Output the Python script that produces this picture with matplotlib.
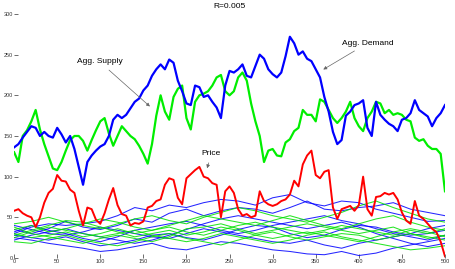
import numpy as np
import matplotlib
matplotlib.use("Agg")
import matplotlib.pyplot as plt

plt.rcParams["font.family"] = ["Liberation Sans", "DejaVu Sans"]

# time grid for the aggregate series (read every 5 steps)
t_main = np.arange(0, 501, 5)

agg_demand = [
    136, 140, 148, 155, 162, 160, 150, 155, 150, 148,
    160, 152, 142, 150, 134, 112, 90, 118, 126, 132,
    137, 140, 150, 170, 176, 172, 176, 184, 192, 196,
    206, 212, 224, 232, 238, 232, 244, 240, 218, 205,
    190, 188, 212, 210, 198, 200, 192, 185, 172, 212,
    230, 228, 232, 238, 224, 222, 236, 250, 245, 232,
    226, 222, 228, 248, 272, 264, 250, 254, 245, 242,
    232, 222, 198, 180, 155, 140, 145, 175, 180, 188,
    190, 194, 160, 150, 192, 176, 170, 165, 162, 156,
    170, 172, 178, 194, 182, 178, 174, 162, 172, 178,
    188,
]

agg_supply = [
    130, 118, 150, 157, 168, 182, 158, 140, 125, 110,
    108, 118, 132, 145, 150, 150, 144, 132, 145, 157,
    168, 172, 153, 138, 150, 162, 156, 150, 146, 138,
    128, 116, 140, 175, 200, 180, 170, 198, 208, 212,
    172, 158, 192, 200, 202, 205, 212, 222, 225, 205,
    200, 205, 222, 228, 218, 190, 168, 150, 118, 132,
    134, 126, 125, 142, 146, 156, 160, 182, 176, 176,
    168, 195, 192, 182, 172, 166, 172, 180, 192, 172,
    162, 156, 172, 180, 192, 190, 178, 182, 176, 178,
    176, 170, 168, 148, 144, 146, 138, 134, 134, 128,
    82,
]

price = [
    58, 60, 55, 52, 50, 38, 50, 68, 80, 85,
    102, 95, 94, 84, 80, 58, 40, 62, 60, 47,
    42, 55, 72, 86, 65, 54, 52, 40, 43, 42,
    45, 62, 64, 70, 72, 90, 98, 96, 74, 66,
    98, 103, 108, 112, 100, 98, 92, 90, 50, 82,
    88, 80, 60, 52, 54, 50, 52, 82, 70, 66,
    64, 66, 70, 72, 78, 95, 88, 115, 126, 132,
    102, 98, 106, 108, 62, 48, 60, 62, 64, 58,
    65, 100, 60, 52, 75, 76, 80, 78, 80, 72,
    56, 46, 42, 70, 52, 48, 42, 36, 32, 20,
    2,
]

# individual agents (read every 20 steps)
t_agent = np.arange(0, 501, 20)

blue_agents = [
    [30, 38, 42, 40, 42, 45, 52, 62, 58, 65, 62, 68, 72, 70, 65, 74, 78, 68, 64, 70, 68, 60, 55, 50, 45, 46],
    [35, 30, 36, 45, 38, 35, 40, 48, 44, 55, 60, 52, 58, 62, 60, 55, 62, 70, 60, 58, 62, 64, 68, 60, 56, 52],
    [28, 25, 22, 26, 20, 15, 18, 22, 28, 30, 25, 22, 28, 35, 40, 38, 30, 25, 28, 35, 40, 38, 32, 28, 30, 34],
    [25, 22, 18, 15, 12, 8, 10, 14, 18, 12, 10, 15, 20, 18, 14, 10, 8, 5, 4, 8, 3, 6, 12, 16, 20, 24],
    [40, 35, 30, 28, 32, 38, 34, 30, 26, 24, 30, 36, 32, 28, 24, 20, 18, 22, 16, 12, 18, 22, 26, 30, 36, 40],
    [32, 40, 34, 30, 24, 20, 26, 34, 38, 42, 45, 40, 34, 30, 34, 40, 44, 48, 52, 46, 42, 36, 30, 26, 22, 28],
    [22, 28, 32, 36, 30, 26, 22, 18, 22, 28, 35, 42, 48, 52, 48, 44, 40, 36, 40, 44, 38, 30, 24, 18, 14, 18],
]

green_agents = [
    [42, 45, 50, 44, 40, 36, 42, 48, 52, 46, 42, 50, 56, 62, 58, 52, 48, 44, 50, 56, 64, 70, 62, 55, 48, 44],
    [35, 40, 32, 36, 42, 48, 44, 38, 34, 40, 46, 52, 48, 44, 40, 46, 52, 46, 40, 36, 42, 48, 52, 44, 38, 34],
    [30, 25, 28, 32, 26, 30, 36, 30, 34, 38, 32, 28, 34, 40, 44, 38, 34, 30, 34, 40, 36, 32, 28, 34, 30, 36],
    [20, 18, 24, 28, 22, 18, 15, 20, 26, 30, 24, 20, 16, 22, 28, 32, 26, 22, 26, 30, 28, 22, 26, 30, 26, 22],
    [25, 32, 38, 34, 30, 26, 30, 34, 28, 24, 20, 24, 30, 26, 22, 18, 22, 28, 32, 26, 22, 18, 14, 10, 12, 15],
    [38, 30, 26, 22, 18, 24, 28, 24, 20, 26, 36, 38, 42, 36, 30, 34, 38, 42, 38, 34, 30, 34, 38, 30, 24, 28],
    [28, 34, 40, 46, 44, 38, 32, 26, 30, 34, 28, 32, 38, 34, 28, 24, 28, 32, 28, 24, 20, 26, 32, 36, 32, 26],
]

y_ticks = [0, 50, 100, 150, 200, 250, 300]
x_ticks = [0, 50, 100, 150, 200, 250, 300, 350, 400, 450, 500]

fig = plt.figure(figsize=(4.55, 2.69), dpi=100)
ax = fig.add_axes([0.031, 0.041, 0.947, 0.907])

for vals in blue_agents:
    ax.plot(t_agent, vals, color="#0000ff", lw=0.75, alpha=0.85)
for vals in green_agents:
    ax.plot(t_agent, vals, color="#00e000", lw=0.75, alpha=0.85)

ax.plot(t_main, price, color="#ff0000", lw=1.4)
ax.plot(t_main, agg_supply, color="#00ee00", lw=1.6)
ax.plot(t_main, agg_demand, color="#0000ff", lw=1.6)

arrow = dict(arrowstyle="-|>", color="#666666", lw=0.5, mutation_scale=5)
ax.annotate("Agg. Supply", xy=(160, 184), xytext=(73, 241), fontsize=6,
            ha="left", va="center", arrowprops=arrow)
ax.annotate("Agg. Demand", xy=(356, 230), xytext=(380, 264), fontsize=6,
            ha="left", va="center", arrowprops=arrow)
ax.annotate("Price", xy=(223, 107), xytext=(229, 128), fontsize=6,
            ha="center", va="center", arrowprops=arrow)

ax.set_title("R=0.005", fontsize=6, pad=4)
ax.set_xlim(0, 500)
ax.set_ylim(0, 300)
ax.set_xticks(x_ticks)
ax.set_yticks(y_ticks)
ax.tick_params(direction="in", length=3, width=0.5, labelsize=4, pad=1,
               colors="#333333")
for side in ax.spines.values():
    side.set_visible(False)

fig.savefig("out.png", dpi=100)
